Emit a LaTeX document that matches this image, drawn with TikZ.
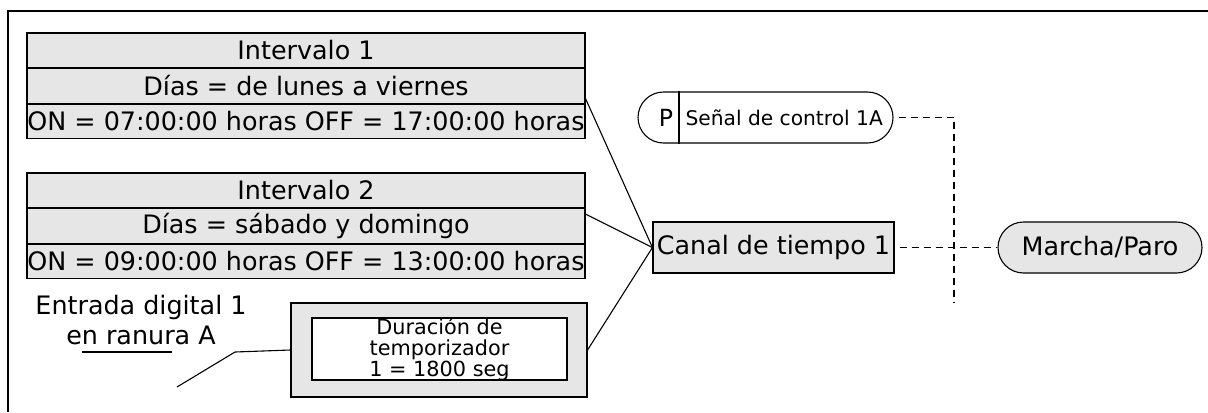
\documentclass[tikz,border=0pt]{standalone}
\usepackage{fontspec}
\setmainfont{DejaVu Sans}
\usepackage{tikz}
\usetikzlibrary{positioning,calc}
\usepackage{xcolor}
\definecolor{boxgray}{RGB}{230,230,230}
\newcommand{\mainfs}{\fontsize{12.7}{15}\selectfont}
\newcommand{\smallfs}{\fontsize{10.4}{10.5}\selectfont}

\begin{document}
\begin{tikzpicture}[x=0.5pt,y=-0.5pt,line width=0.55pt]
\tikzstyle{rowbox}=[draw,fill=boxgray,minimum width=279pt,minimum height=17.25pt,inner sep=0pt,font=\mainfs]
\tikzstyle{pillbox}=[draw,rounded corners=12.75pt,minimum height=25.5pt,inner sep=0pt]
\tikzstyle{link}=[line width=0.55pt]
\tikzstyle{sigline}=[line width=0.55pt,dash pattern=on 3.5pt off 2.5pt,dash phase=3.5pt]

\useasboundingbox (0,0) rectangle (1208,412);
\draw[line width=0.9pt] (8,412) -- (8,11) -- (1208,11);

\node[rowbox] (int1a) at (306,50.25) {Intervalo 1};
\node[rowbox,below=0pt of int1a] (int1b) {Días = de lunes a viernes};
\node[rowbox,below=0pt of int1b] (int1c) {ON = 07:00:00 horas OFF = 17:00:00 horas};

\node[rowbox] (int2a) at (306,190.25) {Intervalo 2};
\node[rowbox,below=0pt of int2a] (int2b) {Días = sábado y domingo};
\node[rowbox,below=0pt of int2b] (int2c) {ON = 09:00:00 horas OFF = 13:00:00 horas};

\node[align=center,font=\mainfs,inner sep=0pt] (din) at (141,320) {Entrada digital 1\\en ranura A};
\coordinate (ul1) at (82,352);
\coordinate (ul2) at (172,352);
\coordinate (lead) at (177,387);
\coordinate (bend) at (235,352);

\node[draw,fill=boxgray,minimum width=148pt,minimum height=47pt,inner sep=0pt] (tmr) at (439,350) {};
\node[draw,fill=white,minimum width=127.5pt,minimum height=31pt,inner sep=0pt] (tmrin) at (439.5,349) {};
\node[align=center,font=\smallfs,inner sep=0pt] (tmrtxt) at (tmrin.center) {Duración de\\temporizador\\1 = 1800 seg};

\node[draw,fill=boxgray,minimum width=120.5pt,minimum height=25.5pt,inner sep=0pt,font=\mainfs] (chan) at (773.5,247.5) {Canal de tiempo 1};

\node[pillbox,minimum width=127.5pt] (sig) at (765.5,117.5) {};
\node[font=\fontsize{11.8}{12}\selectfont,inner sep=0pt] (sigp) at (666,117.5) {P};
\node[font=\fontsize{10.1}{11}\selectfont,anchor=west,inner sep=0pt] (sigtxt) at (685,118) {Señal de control 1A};
\coordinate (sigdiv) at (679,0);
\draw (sig.north -| sigdiv) -- (sig.south -| sigdiv);

\node[pillbox,fill=boxgray,minimum width=102pt,font=\mainfs] (run) at (1100,247.5) {Marcha/Paro};

\coordinate (busend) at (954,303);

% entradas al canal
\draw[link] ($(int1b.south east)+(0,-5)$) -- (chan.west);
\draw[link] ($(int2b.north east)+(0,6)$) -- (chan.west);
\draw[link] (tmr.east) -- (chan.west);
\draw[link] (ul1) -- (ul2);
\draw[link] (lead) -- (bend) -- (tmr.west);

% salidas
\draw[sigline] (sig.east) -| (busend);
\draw[sigline] (chan.east) -- (run.west);
\end{tikzpicture}
\end{document}
